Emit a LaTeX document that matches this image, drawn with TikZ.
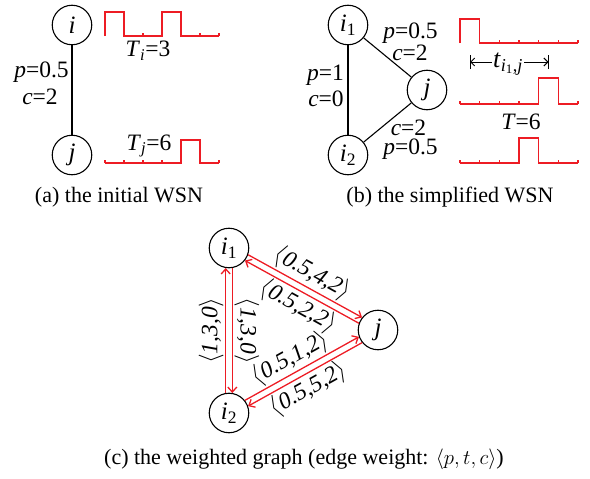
\documentclass[tikz,border=0pt]{standalone}
\usepackage{amsmath}
\usepackage{fontspec}
\setmainfont{Liberation Serif}
\usetikzlibrary{arrows.meta,calc}
\definecolor{wred}{RGB}{237,28,36}
\newcommand\fsz{\fontsize{22}{26}\selectfont}
\newcommand\lsz{\fontsize{23.5}{27}\selectfont}
\newcommand\nsz{\fontsize{25}{29}\selectfont}
\newcommand\ti[1]{\textit{#1}}
\begin{document}
\begin{tikzpicture}[x=1pt,y=-1pt,
  vtx/.style={circle,draw,line width=1.1pt,minimum size=39.5pt,inner sep=0pt,font=\nsz},
  edg/.style={draw,line width=1.1pt},
  wav/.style={draw=wred,line width=1.3pt},
  tck/.style={draw=wred,line width=1.1pt},
  rarr/.style={draw=wred,line width=1.3pt,-{Straight Barb[length=5pt,width=9pt]},shorten <=20pt,shorten >=20pt},
  lbl/.style={font=\lsz,inner sep=1pt},
  wlbl/.style={font=\lsz,inner sep=1.5pt},
  captxt/.style={font=\fsz,inner sep=0pt}]
\useasboundingbox (0,0) rectangle (590,479);

% ---------- (a) ----------
\node[vtx] (ai) at (72,25) {\ti{i}};
\node[vtx] (aj) at (72,155) {\ti{j}};
\draw[edg] (ai) -- (aj);
\node[lbl] (ap) at (41.5,72) {\ti{p}=0.5};
\node[lbl] (ac) at (40,97) {\ti{c}=2};
% waveform i
\draw[wav] (105,36) -- (105,12) -- (124,12) -- (124,36) -- (162,36) -- (162,12) -- (181,12) -- (181,36) -- (219,36);
\foreach \x in {143,200,219} \draw[tck] (\x,36) -- (\x,32.5);
\node[lbl] (aTi) at (148,51) {\ti{T}$_{\text{\itshape i}}$=3};
% waveform j
\draw[wav] (105,163) -- (181,163) -- (181,140) -- (200,140) -- (200,163) -- (219,163);
\foreach \x in {105,124,143,162,219} \draw[tck] (\x,163) -- (\x,159.5);
\node[lbl] (aTj) at (149,146) {\ti{T}$_{\text{\itshape j}}$=6};
\node[captxt] (capa) at (119,197) {(a) the initial WSN};

% ---------- (b) ----------
\node[vtx] (bi1) at (348,25) {\ti{i}$_{\text{1}}$};
\node[vtx] (bi2) at (348,155) {\ti{i}$_{\text{2}}$};
\node[vtx] (bj) at (427,90) {\ti{j}};
\draw[edg] (bi1) -- (bi2);
\draw[edg] (bi1) -- (bj);
\draw[edg] (bi2) -- (bj);
\node[lbl] (bp1) at (410.5,33) {\ti{p}=0.5};
\node[lbl] (bc1) at (410,53) {\ti{c}=2};
\node[lbl] (bp2) at (325.5,75) {\ti{p}=1};
\node[lbl] (bc2) at (326,99) {\ti{c}=0};
\node[lbl] (bc3) at (408.5,128) {\ti{c}=2};
\node[lbl] (bp3) at (410.5,149) {\ti{p}=0.5};
% waveform 1
\draw[wav] (460,43) -- (460,19) -- (479.7,19) -- (479.7,43) -- (578,43);
\foreach \x in {499.3,519,538.7,558.3,578} \draw[tck] (\x,43) -- (\x,39.5);
% interval
\coordinate (tb1) at (470,62);
\coordinate (tb2) at (548.5,62);
\draw[line width=1pt] ([yshift=-7pt]tb1) -- ([yshift=7pt]tb1);
\draw[line width=1pt] ([yshift=-7pt]tb2) -- ([yshift=7pt]tb2);
\draw[line width=1pt,{Straight Barb[length=4pt,width=8pt]}-{Straight Barb[length=4pt,width=8pt]}] (tb1) -- (tb2);
\node[fill=white,inner sep=1pt,font=\fontsize{26}{29}\selectfont] (tl) at (508,64) {\ti{t}$_{\text{\itshape i}_{\text{1}}\text{,\itshape j}}$};
% waveform 2
\draw[wav] (460,104) -- (538.7,104) -- (538.7,78) -- (558.3,78) -- (558.3,104) -- (578,104);
\foreach \x in {460,479.7,499.3,519,578} \draw[tck] (\x,104) -- (\x,100.5);
\node[lbl] (bT) at (521,122) {\ti{T}=6};
% waveform 3
\draw[wav] (460,163) -- (519,163) -- (519,138) -- (538.7,138) -- (538.7,163) -- (578,163);
\foreach \x in {460,479.7,499.3,558.3,578} \draw[tck] (\x,163) -- (\x,159.5);
\node[captxt] (capb) at (450,197) {(b) the simplified WSN};

% ---------- (c) ----------
\node[vtx] (ci1) at (229,248) {\ti{i}$_{\text{1}}$};
\node[vtx] (cj) at (378,330) {\ti{j}};
\node[vtx] (ci2) at (229,413) {\ti{i}$_{\text{2}}$};
% i1 <-> j
\coordinate (u1) at ($(ci1)!3.3pt!90:(cj)$);
\coordinate (u2) at ($(cj)!3.3pt!-90:(ci1)$);
\draw[rarr] (u1) -- (u2) node[pos=0.5,sloped,above,wlbl] {$\langle$\ti{0.5,4,2}$\rangle$};
\coordinate (l1) at ($(cj)!3.3pt!90:(ci1)$);
\coordinate (l2) at ($(ci1)!3.3pt!-90:(cj)$);
\draw[rarr] (l1) -- (l2) node[pos=0.48,sloped,below,wlbl] {$\langle$\ti{0.5,2,2}$\rangle$};
% i2 <-> j
\coordinate (v1) at ($(ci2)!3.3pt!90:(cj)$);
\coordinate (v2) at ($(cj)!3.3pt!-90:(ci2)$);
\draw[rarr] (v1) -- (v2) node[pos=0.47,sloped,above,wlbl] {$\langle$\ti{0.5,1,2}$\rangle$};
\coordinate (w1) at ($(cj)!3.3pt!90:(ci2)$);
\coordinate (w2) at ($(ci2)!3.3pt!-90:(cj)$);
\draw[rarr] (w1) -- (w2) node[pos=0.525,sloped,below,wlbl] {$\langle$\ti{0.5,5,2}$\rangle$};
% i1 <-> i2
\coordinate (s1) at ($(ci2)!3.3pt!90:(ci1)$);
\coordinate (s2) at ($(ci1)!3.3pt!-90:(ci2)$);
\draw[rarr] (s1) -- (s2) node[midway,rotate=90,anchor=south,wlbl] {$\langle$\ti{1,3,0}$\rangle$};
\coordinate (r1) at ($(ci1)!3.3pt!90:(ci2)$);
\coordinate (r2) at ($(ci2)!3.3pt!-90:(ci1)$);
\draw[rarr] (r1) -- (r2) node[midway,rotate=-90,anchor=south,wlbl] {$\langle$\ti{1,3,0}$\rangle$};
\node[captxt] (capc) at (304,459) {(c) the weighted graph (edge weight: $\langle p,t,c\rangle$)};
\end{tikzpicture}
\end{document}
